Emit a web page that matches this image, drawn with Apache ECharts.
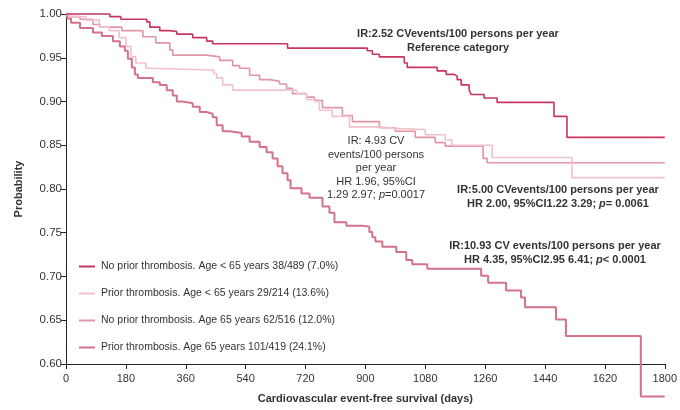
<!DOCTYPE html>
<html>
<head>
<meta charset="utf-8">
<script src="https://cdn.jsdelivr.net/npm/echarts@6/dist/echarts.min.js"></script>
<style>html,body{margin:0;padding:0;background:#fff}#c{width:680px;height:410px}</style>
</head>
<body>
<div id="c"></div>
<script>
var seriesNames = [
  'No prior thrombosis. Age < 65 years 38/489 (7.0%)',
  'Prior thrombosis. Age < 65 years 29/214 (13.6%)',
  'No prior thrombosis. Age 65 years 62/516 (12.0%)',
  'Prior thrombosis. Age 65 years 101/419 (24.1%)'
];
var xTicks = [0, 180, 360, 540, 720, 900, 1080, 1260, 1440, 1620, 1800];
var yTicks = [0.60, 0.65, 0.70, 0.75, 0.80, 0.85, 0.90, 0.95, 1.00];

var noPriorUnder65Days = [0,132,165,243,252,282,312,333,381,423,441,666,906,921,942,1017,1026,1116,1143,1167,1176,1188,1212,1218,1257,1296,1467,1506,1800];
var noPriorUnder65Surv = [1.0,0.997,0.994,0.991,0.985,0.981,0.980,0.977,0.973,0.969,0.966,0.961,0.958,0.954,0.951,0.944,0.939,0.935,0.931,0.929,0.925,0.919,0.913,0.908,0.904,0.899,0.883,0.859,0.859];

var priorUnder65Days = [0,10,60,100,130,160,180,195,210,240,252,444,453,471,501,693,723,762,800,852,942,1000,1080,1140,1160,1281,1521,1800];
var priorUnder65Surv = [1.0,0.997,0.993,0.985,0.981,0.973,0.963,0.951,0.944,0.938,0.936,0.932,0.927,0.919,0.913,0.909,0.902,0.890,0.883,0.871,0.869,0.868,0.862,0.856,0.850,0.836,0.813,0.813];

var noPriorOver65Days = [0,10,42,81,102,168,231,270,312,321,423,462,501,522,552,582,612,642,663,681,723,747,771,831,861,942,990,1050,1110,1140,1254,1266,1800];
var noPriorOver65Surv = [1.0,0.997,0.994,0.988,0.985,0.981,0.974,0.967,0.959,0.953,0.951,0.947,0.941,0.938,0.930,0.925,0.923,0.920,0.915,0.909,0.905,0.901,0.893,0.884,0.877,0.870,0.866,0.859,0.853,0.849,0.835,0.830,0.830];

var priorOver65Days = [0,5,15,42,81,108,141,162,177,186,198,207,216,261,282,303,321,333,351,381,402,423,441,453,471,492,528,552,582,603,621,636,651,666,675,708,732,771,792,807,843,891,912,921,930,951,993,1023,1041,1086,1248,1269,1323,1368,1380,1473,1503,1728,1800];
var priorOver65Surv = [1.0,0.995,0.990,0.984,0.979,0.975,0.969,0.963,0.958,0.949,0.939,0.931,0.927,0.922,0.919,0.913,0.907,0.900,0.898,0.894,0.888,0.886,0.882,0.873,0.866,0.864,0.860,0.854,0.848,0.842,0.835,0.826,0.818,0.810,0.801,0.795,0.790,0.780,0.773,0.762,0.758,0.757,0.751,0.745,0.740,0.734,0.728,0.719,0.714,0.709,0.701,0.693,0.684,0.676,0.665,0.651,0.632,0.563,0.563];

var seriesColors = ['#c8365f', '#f0c2cb', '#e096a8', '#d4728c'];
var seriesWidths = [1.6, 1.6, 1.6, 2.0];

function pairs(xs, ys) { return xs.map(function (x, i) { return [x, ys[i]]; }); }
var allData = [
  pairs(noPriorUnder65Days, noPriorUnder65Surv),
  pairs(priorUnder65Days, priorUnder65Surv),
  pairs(noPriorOver65Days, noPriorOver65Surv),
  pairs(priorOver65Days, priorOver65Surv)
];

var FONT = '"Liberation Sans", Arial, Helvetica, sans-serif';
var chart = echarts.init(document.getElementById('c'), null, {renderer: 'canvas'});

var series = seriesNames.map(function (n, i) {
  return {
    name: n, type: 'line', step: 'end', symbol: 'none', showSymbol: false,
    clip: false, data: allData[i], z: 10 - i,
    lineStyle: {color: seriesColors[i], width: seriesWidths[i]},
    itemStyle: {color: seriesColors[i]}
  };
});

function txt(x, y, text, bold, size, rich) {
  return {
    type: 'text', x: x, y: y, z: 100,
    style: {
      text: text, fill: '#333',
      fontFamily: FONT, fontSize: size, fontWeight: bold ? 'bold' : 'normal',
      align: 'center', verticalAlign: 'middle', lineHeight: 13.5,
      rich: rich || {}
    }
  };
}
var itB = {i: {fontStyle: 'italic', fontWeight: 'bold', fontSize: 11, fontFamily: FONT, fill: '#333'}};
var itN = {i: {fontStyle: 'italic', fontSize: 11, fontFamily: FONT, fill: '#333'}};

chart.setOption({
  animation: false,
  backgroundColor: '#fff',
  textStyle: {fontFamily: FONT},
  grid: {left: 66, right: 14, top: 14, bottom: 46, containLabel: false},
  legend: {
    orient: 'vertical', left: 74, top: 256, itemGap: 16,
    itemWidth: 16, itemHeight: 2, icon: 'rect',
    textStyle: {color: '#333', fontSize: 10.5, fontFamily: FONT, padding: [0, 0, 0, 1]},
    data: seriesNames
  },
  xAxis: {
    type: 'value', min: xTicks[0], max: xTicks[xTicks.length - 1], interval: 180,
    name: 'Cardiovascular event-free survival (days)', nameLocation: 'middle', nameGap: 29,
    nameTextStyle: {color: '#333', fontWeight: 'bold', fontSize: 11, fontFamily: FONT},
    axisLine: {lineStyle: {color: '#222', width: 1}},
    axisTick: {length: 5, lineStyle: {color: '#222'}},
    axisLabel: {color: '#333', fontSize: 11, fontFamily: FONT, margin: 9,
      formatter: function (v) { return String(v); }},
    splitLine: {show: false}
  },
  yAxis: {
    type: 'value', min: yTicks[0], max: yTicks[yTicks.length - 1], interval: 0.05,
    name: 'Probability', nameLocation: 'middle', nameGap: 42,
    nameTextStyle: {color: '#333', fontWeight: 'bold', fontSize: 11, fontFamily: FONT},
    axisLine: {show: true, lineStyle: {color: '#222', width: 1}},
    axisTick: {show: true, length: 5, lineStyle: {color: '#222'}},
    axisLabel: {color: '#333', fontSize: 11.5, fontFamily: FONT, margin: 4,
      formatter: function (v) { return v.toFixed(2); }},
    splitLine: {show: false}
  },
  graphic: [
    txt(458, 41, 'IR:2.52 CVevents/100 persons per year\nReference category', true, 11),
    txt(376, 168, 'IR: 4.93 CV\nevents/100 persons\nper year\nHR 1.96, 95%CI\n1.29 2.97; {i|p}=0.0017', false, 11, itN),
    txt(558, 197, 'IR:5.00 CVevents/100 persons per year\nHR 2.00, 95%CI1.22 3.29; {i|p}= 0.0061', true, 11, itB),
    txt(555, 253, 'IR:10.93 CV events/100 persons per year\nHR 4.35, 95%CI2.95 6.41; {i|p}< 0.0001', true, 11, itB)
  ],
  series: series
});
</script>
</body>
</html>
